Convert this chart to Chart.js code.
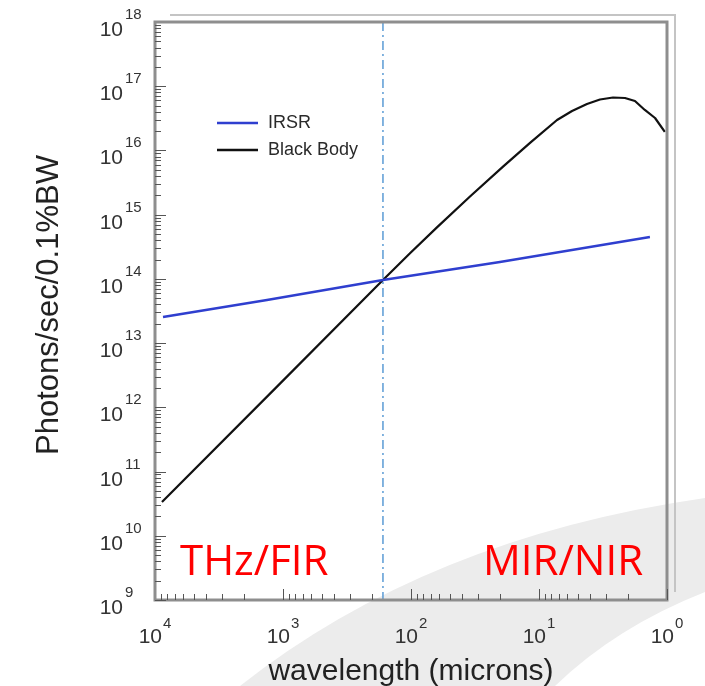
<!DOCTYPE html>
<html>
<head>
<meta charset="utf-8">
<script src="https://cdn.jsdelivr.net/npm/chart.js@4.4.1/dist/chart.umd.min.js"></script>
<style>
  html, body { margin: 0; padding: 0; background: #ffffff; }
  #wrap { width: 705px; height: 686px; position: relative; }
</style>
</head>
<body>
<div id="wrap"><canvas id="c" width="705" height="686"></canvas></div>
<script>
// ---- data ----
const wavelengthBlackBody = [8820, 1114, 165.6, 101.8, 62.7, 34.6, 19.1, 11.75, 7.23, 5.52, 4.22, 3.34, 2.64, 2.13, 1.78, 1.49, 1.24, 1.04];
const photonsBlackBody   = [3.36e10, 2.1e12, 9.6e13, 2.51e14, 6.35e14, 1.92e15, 5.61e15, 1.31e16, 2.98e16, 4.11e16, 5.28e16, 6.22e16, 6.68e16, 6.56e16, 5.89e16, 4.27e16, 3.2e16, 1.94e16];
const wavelengthIRSR     = [8660, 1334, 165.6, 20.2, 1.36];
const photonsIRSR        = [2.55e13, 4.69e13, 9.6e13, 1.83e14, 4.49e14];
const xTickValues   = [1e4, 1e3, 1e2, 1e1, 1e0];
const xTickExponents = ['4', '3', '2', '1', '0'];
const yTickValues   = [1e9, 1e10, 1e11, 1e12, 1e13, 1e14, 1e15, 1e16, 1e17, 1e18];
const yTickExponents = ['9', '10', '11', '12', '13', '14', '15', '16', '17', '18'];
const dividerWavelength = 165.6;
const seriesLabels = ['IRSR', 'Black Body'];
const regionLabels = ['THz/FIR', 'MIR/NIR'];
const xTitle = 'wavelength (microns)';
const yTitle = 'Photons/sec/0.1%BW';

const toPoints = (xs, ys) => xs.map((x, i) => ({ x: x, y: ys[i] }));

const AXIS_FONT = '"Liberation Sans", Arial, sans-serif';

const decorPlugin = {
  id: 'decor',
  beforeDraw(chart) {
    const ctx = chart.ctx;
    ctx.save();
    ctx.fillStyle = '#ffffff';
    ctx.fillRect(0, 0, chart.width, chart.height);
    // light grey swoosh of the slide background
    ctx.fillStyle = '#ececec';
    ctx.beginPath();
    ctx.moveTo(240, 686);
    ctx.quadraticCurveTo(427, 538, 705, 498);
    ctx.lineTo(705, 592);
    ctx.quadraticCurveTo(616, 627, 555, 686);
    ctx.closePath();
    ctx.fill();
    ctx.restore();
  },
  beforeDatasetsDraw(chart) {
    const ctx = chart.ctx;
    const a = chart.chartArea;
    const xs = chart.scales.x;
    // vertical divider (dash-dot)
    const px = xs.getPixelForValue(dividerWavelength);
    ctx.save();
    ctx.strokeStyle = '#5b9bd5';
    ctx.lineWidth = 1.5;
    ctx.setLineDash([9, 4, 2, 4]);
    ctx.beginPath();
    ctx.moveTo(px, a.top);
    ctx.lineTo(px, a.bottom);
    ctx.stroke();
    ctx.restore();
  },
  afterDraw(chart) {
    const ctx = chart.ctx;
    const a = chart.chartArea;
    const xs = chart.scales.x;
    const ys = chart.scales.y;
    ctx.save();
    // shadow frame lines (top & right)
    ctx.strokeStyle = '#c4c4c4';
    ctx.lineWidth = 2;
    ctx.beginPath();
    ctx.moveTo(a.left + 15, a.top - 7);
    ctx.lineTo(a.right + 8, a.top - 7);
    ctx.lineTo(a.right + 8, a.bottom - 8);
    ctx.stroke();
    // frame
    ctx.strokeStyle = '#8e8e8e';
    ctx.lineWidth = 3;
    ctx.strokeRect(a.left, a.top, a.right - a.left, a.bottom - a.top);

    // ticks (inward)
    ctx.strokeStyle = '#555';
    ctx.lineWidth = 1;
    ctx.beginPath();
    for (let e = 9; e < 18; e++) {
      for (let m = 1; m < 10; m++) {
        const v = m * Math.pow(10, e);
        const py = Math.round(ys.getPixelForValue(v)) + 0.5;
        const len = m === 1 ? 11 : 6;
        ctx.moveTo(a.left, py);
        ctx.lineTo(a.left + len, py);
      }
    }
    for (let e = 0; e < 4; e++) {
      for (let m = 1; m < 10; m++) {
        const v = m * Math.pow(10, e);
        const px = Math.round(xs.getPixelForValue(v)) + 0.5;
        const len = m === 1 ? 11 : 6;
        ctx.moveTo(px, a.bottom);
        ctx.lineTo(px, a.bottom - len);
      }
    }
    ctx.stroke();

    // y tick labels: 10 with superscript exponent
    ctx.fillStyle = '#333';
    ctx.textBaseline = 'alphabetic';
    yTickValues.forEach((v, i) => {
      const py = ys.getPixelForValue(v);
      ctx.font = '15px ' + AXIS_FONT;
      ctx.textAlign = 'left';
      ctx.fillText(yTickExponents[i], 125, py - 3);
      ctx.font = '21px ' + AXIS_FONT;
      ctx.textAlign = 'right';
      ctx.fillText('10', 123, py + 14);
    });
    // x tick labels
    xTickValues.forEach((v, i) => {
      const px = xs.getPixelForValue(v);
      ctx.font = '21px ' + AXIS_FONT;
      const w1 = ctx.measureText('10').width;
      ctx.font = '15px ' + AXIS_FONT;
      const w2 = ctx.measureText(xTickExponents[i]).width;
      const x0 = px - (w1 + w2 + 1) / 2;
      ctx.textAlign = 'left';
      ctx.font = '21px ' + AXIS_FONT;
      ctx.fillText('10', x0, a.bottom + 43);
      ctx.font = '15px ' + AXIS_FONT;
      ctx.fillText(xTickExponents[i], x0 + w1 + 1, a.bottom + 28);
    });

    // axis titles
    ctx.fillStyle = '#222';
    ctx.font = '30px ' + AXIS_FONT;
    ctx.textAlign = 'center';
    ctx.fillText(xTitle, 411, 680);
    ctx.save();
    ctx.translate(58, 305);
    ctx.rotate(-Math.PI / 2);
    ctx.font = '31px ' + AXIS_FONT;
    ctx.fillText(yTitle, 0, 0);
    ctx.restore();

    // legend
    ctx.font = '18px ' + AXIS_FONT;
    ctx.textAlign = 'left';
    ctx.textBaseline = 'middle';
    chart.data.datasets.forEach((ds, i) => {
      const ly = 123 + i * 27;
      ctx.strokeStyle = ds.borderColor;
      ctx.lineWidth = 2.5;
      ctx.beginPath();
      ctx.moveTo(217, ly);
      ctx.lineTo(258, ly);
      ctx.stroke();
      ctx.fillStyle = '#2a2a2a';
      ctx.fillText(ds.label, 268, ly);
    });

    // region labels
    ctx.fillStyle = '#ff0000';
    ctx.font = '42px "Open Sans", sans-serif';
    ctx.textBaseline = 'alphabetic';
    ctx.textAlign = 'left';
    ctx.fillText(regionLabels[0], a.left + 25, 575);
    ctx.fillText(regionLabels[1], a.left + 328, 575);
    ctx.restore();
  }
};

new Chart(document.getElementById('c'), {
  type: 'scatter',
  data: {
    datasets: [
      {
        label: seriesLabels[0],
        data: toPoints(wavelengthIRSR, photonsIRSR),
        showLine: true,
        borderColor: '#2f3fcf',
        borderWidth: 2.5,
        pointRadius: 0,
        tension: 0,
        fill: false
      },
      {
        label: seriesLabels[1],
        data: toPoints(wavelengthBlackBody, photonsBlackBody),
        showLine: true,
        borderColor: '#111111',
        borderWidth: 2.2,
        pointRadius: 0,
        tension: 0,
        borderJoinStyle: 'round',
        fill: false
      }
    ]
  },
  options: {
    responsive: false,
    animation: false,
    devicePixelRatio: 1,
    layout: { padding: { left: 155, right: 38, top: 22, bottom: 86 } },
    plugins: { legend: { display: false }, tooltip: { enabled: false } },
    scales: {
      x: { type: 'logarithmic', min: 1, max: 1e4, reverse: true, display: false },
      y: { type: 'logarithmic', min: 1e9, max: 1e18, display: false }
    }
  },
  plugins: [decorPlugin]
});
</script>
</body>
</html>
